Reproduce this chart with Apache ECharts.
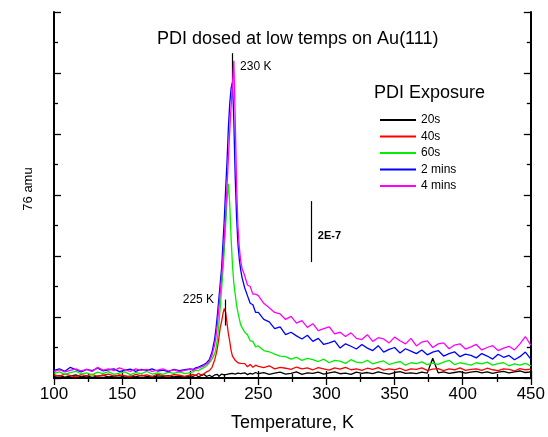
<!DOCTYPE html>
<html>
<head>
<meta charset="utf-8">
<script src="https://cdn.jsdelivr.net/npm/echarts@6/dist/echarts.min.js"></script>
<style>html,body{margin:0;padding:0;background:#fff;}#c{width:548px;height:437px;}</style>
</head>
<body>
<div id="c"></div>
<script>
// Temperatures (K)
const temps = [
  100,104,108,112,116,120,124,128,132,136,140,144,148,152,156,160,164,168,172,176,180,184,188,192,196,200,
  202,204,206,208,210,212,214,216,218,219,220,221,222,223,224,225,226,227,228,229,230,231,232,233,234,235,236,237,238,240,242,244,246,248,
  250,254,258,262,266,270,274,278,282,286,290,294,298,302,306,310,314,318,322,326,330,334,338,342,346,350,354,358,362,366,370,374,378,382,386,390,394,398,402,406,410,414,418,422,426,430,434,438,442,446,450
];
// Signal in units of 1E-7
const exp20s = [
  0.05,0.08,0.03,0.06,0.1,0.04,0.07,0.02,0.06,0.09,0.04,0.05,0.08,0.03,0.06,0.04,0.09,0.05,0.03,0.07,0.05,0.08,0.04,0.06,0.03,0.07,
  0.05,0.1,0.04,0.08,0.12,0.05,0.09,0.04,0.1,0.06,0.12,0.05,0.09,0.13,0.07,0.1,0.06,0.12,0.08,0.14,0.1,0.15,0.09,0.13,0.11,0.16,0.1,0.14,0.12,0.17,0.11,0.15,0.13,0.18,
  0.14,0.18,0.12,0.16,0.19,0.13,0.15,0.2,0.12,0.17,
  0.15,0.19,0.13,0.17,0.2,0.14,0.16,0.12,0.19,0.15,
  0.18,0.14,0.2,0.16,0.13,0.18,0.21,0.15,0.17,0.14,
  0.19,0.16,0.65,0.17,0.2,0.15,0.18,0.21,0.16,0.19,
  0.22,0.17,0.2,0.15,0.19,0.22,0.17,0.2,0.23,0.18,
  0.2
];
const exp40s = [
  0.1,0.06,0.13,0.08,0.04,0.11,0.07,0.12,0.05,0.09,0.13,0.06,0.1,0.08,0.04,0.12,0.07,0.1,0.05,0.13,0.08,0.06,0.11,0.09,0.05,0.1,
  0.12,0.08,0.15,0.1,0.14,0.2,0.24,0.35,0.6,0.78,1.0,1.3,1.65,1.85,2.1,2.28,2.15,1.8,1.45,1.2,0.9,0.72,0.65,0.58,0.52,0.5,0.46,0.48,0.42,0.47,0.37,0.44,0.35,0.42,
  0.38,0.34,0.4,0.3,0.35,0.32,0.28,0.36,0.3,0.33,
  0.27,0.34,0.3,0.26,0.33,0.29,0.35,0.27,0.3,0.25,
  0.32,0.28,0.34,0.26,0.3,0.27,0.32,0.24,0.3,0.28,
  0.33,0.25,0.29,0.31,0.24,0.3,0.27,0.33,0.25,0.28,
  0.3,0.25,0.32,0.27,0.24,0.3,0.28,0.23,0.31,0.27,
  0.29
];
const exp60s = [
  0.15,0.2,0.12,0.18,0.22,0.13,0.17,0.1,0.19,0.14,0.21,0.12,0.16,0.2,0.11,0.18,0.14,0.22,0.13,0.17,0.12,0.19,0.15,0.2,0.14,0.18,
  0.2,0.26,0.24,0.3,0.34,0.4,0.5,0.62,0.8,1.0,1.3,1.75,2.3,2.9,3.5,4.2,5.0,5.8,6.37,5.7,4.6,3.7,3.1,2.75,2.4,2.15,1.95,1.75,1.66,1.5,1.42,1.22,1.2,1.02,
  1.05,0.9,0.86,0.78,0.72,0.7,0.62,0.68,0.58,0.64,
  0.6,0.54,0.62,0.5,0.58,0.55,0.48,0.6,0.52,0.5,
  0.58,0.46,0.52,0.56,0.44,0.5,0.54,0.42,0.5,0.47,
  0.53,0.44,0.49,0.45,0.52,0.58,0.44,0.5,0.46,0.42,
  0.5,0.46,0.52,0.42,0.47,0.5,0.4,0.46,0.42,0.48,
  0.4
];
const exp2min = [
  0.25,0.3,0.22,0.35,0.27,0.2,0.28,0.24,0.32,0.23,0.27,0.3,0.21,0.26,0.29,0.22,0.28,0.25,0.3,0.23,0.26,0.21,0.28,0.24,0.27,0.3,
  0.28,0.33,0.36,0.4,0.44,0.5,0.6,0.85,1.3,1.66,2.1,2.6,3.1,3.6,4.4,5.2,6.2,7.1,8.2,9.0,9.5,9.7,8.4,6.6,5.3,4.4,3.9,3.55,3.3,2.95,2.7,2.45,2.4,2.15,
  2.15,1.92,1.84,1.62,1.68,1.42,1.5,1.38,1.28,1.4,
  1.2,1.3,1.1,1.15,1.22,0.98,1.12,1.04,0.95,1.1,
  0.98,0.9,1.06,0.85,0.94,1.0,0.82,0.96,0.88,0.8,
  0.92,0.76,0.85,0.9,0.72,0.8,0.86,0.7,0.78,0.74,
  0.66,0.8,0.72,0.62,0.78,0.68,0.74,0.6,0.7,0.85,
  0.62
];
const exp4min = [
  0.22,0.27,0.2,0.25,0.3,0.23,0.28,0.21,0.35,0.26,0.3,0.24,0.33,0.27,0.22,0.3,0.25,0.28,0.22,0.26,0.3,0.23,0.27,0.21,0.25,0.28,
  0.25,0.3,0.32,0.36,0.4,0.46,0.55,0.75,1.1,1.4,1.8,2.3,2.8,3.3,3.9,4.6,5.4,6.3,7.2,8.1,8.9,9.6,10.4,8.5,6.4,5.0,4.3,3.85,3.6,3.35,3.05,3.0,2.75,2.75,
  2.7,2.45,2.3,2.15,2.1,1.92,2.02,1.8,1.88,1.66,
  1.78,1.55,1.62,1.68,1.45,1.5,1.36,1.48,1.3,1.26,
  1.42,1.2,1.32,1.28,1.15,1.34,1.22,1.12,1.3,1.05,
  1.18,1.22,1.0,1.12,1.15,0.96,1.08,1.12,0.95,1.02,
  1.1,0.92,1.0,1.06,0.9,0.98,1.04,0.92,1.12,1.36,
  1.08
];
const seriesNames = ['20s','40s','60s','2 mins','4 mins'];
const seriesColors = ['#000000','#ff0000','#00ee00','#0000ff','#ff00ff'];
const seriesValues = [exp20s, exp40s, exp60s, exp2min, exp4min];
const xTicks = [100,150,200,250,300,350,400,450];

const FONT = '"Liberation Sans", Arial, sans-serif';
const chart = echarts.init(document.getElementById('c'), null, {renderer:'canvas'});

const axisLine = {show:true, lineStyle:{color:'#000', width:2}};
const tick = {show:true, inside:true, length:7, lineStyle:{color:'#000', width:1.3}};
const minor = {show:true, splitNumber:2, length:4, lineStyle:{color:'#000', width:1.3}};

const series = seriesNames.map((name, k) => {
  const s = {
    name: name,
    type: 'line',
    data: temps.map((t, i) => [t, seriesValues[k][i]]),
    showSymbol: false,
    symbol: 'none',
    color: seriesColors[k],
    lineStyle: {color: seriesColors[k], width: 1.3},
    z: 2 + k
  };
  if (k === 0) {
    s.markLine = {
      silent: true,
      symbol: ['none','none'],
      label: {show:false},
      lineStyle: {color:'#000', width:1.2, type:'solid'},
      data: [
        [{coord:[230.8, 10.65]}, {coord:[230.8, 9.6]}],
        [{coord:[226, 2.57]}, {coord:[226, 1.72]}],
        [{coord:[289, 5.8]}, {coord:[289, 3.8]}]
      ]
    };
    s.markPoint = {
      silent: true,
      symbol: 'rect',
      symbolSize: 1,
      itemStyle: {color:'rgba(0,0,0,0)'},
      data: [
        {coord:[236.2, 10.2], label:{show:true, position:'right', distance:0, formatter:'230 K', color:'#000', fontSize:12, fontFamily:FONT}},
        {coord:[217.9, 2.57], label:{show:true, position:'left', distance:0, formatter:'225 K', color:'#000', fontSize:12, fontFamily:FONT}},
        {coord:[293.3, 4.65], label:{show:true, position:'right', distance:0, formatter:'2E-7', color:'#000', fontSize:11, fontWeight:'bold', fontFamily:FONT}}
      ]
    };
  }
  return s;
});

chart.setOption({
  animation: false,
  backgroundColor: '#fff',
  textStyle: {fontFamily: FONT, color:'#000'},
  title: [
    {text:'PDI dosed at low temps on Au(111)', left:157, top:30, padding:0,
     textStyle:{fontSize:18, fontWeight:'normal', color:'#000', fontFamily:FONT}},
    {text:'PDI Exposure', left:374, top:84, padding:0,
     textStyle:{fontSize:18, fontWeight:'normal', color:'#000', fontFamily:FONT}}
  ],
  legend: {
    data: seriesNames,
    orient: 'vertical',
    left: 380,
    top: 113,
    padding: 0,
    itemGap: 2.5,
    itemWidth: 36,
    itemHeight: 2,
    icon: 'rect',
    selectedMode: false,
    textStyle: {fontSize:12, lineHeight:14, color:'#000', fontFamily:FONT}
  },
  grid: {left:54, right:16, top:12, bottom:56, containLabel:false},
  xAxis: [
    {type:'value', min:100, max:450, interval:50, position:'bottom',
     name:'Temperature, K', nameLocation:'middle', nameGap:36,
     nameTextStyle:{fontSize:18, color:'#000', fontFamily:FONT},
     axisLine: axisLine, axisTick: tick, minorTick: minor,
     axisLabel:{show:true, fontSize:17, margin:8, color:'#000', fontFamily:FONT,
       formatter: v => (xTicks.indexOf(v) >= 0 ? String(v) : '')},
     splitLine:{show:false}, minorSplitLine:{show:false}},
    {type:'value', min:100, max:450, interval:50, position:'top',
     axisLine: axisLine, axisTick: tick, minorTick: minor,
     axisLabel:{show:false}, splitLine:{show:false}}
  ],
  yAxis: [
    {type:'value', min:0, max:12, interval:2, position:'left',
     name:'76 amu', nameLocation:'middle', nameGap:19, nameRotate:90,
     nameTextStyle:{fontSize:13, color:'#000', fontFamily:FONT, padding:[0,0,0,12]},
     axisLine: axisLine, axisTick: tick, minorTick: minor,
     axisLabel:{show:false}, splitLine:{show:false}},
    {type:'value', min:0, max:12, interval:2, position:'right',
     axisLine: axisLine, axisTick: tick, minorTick: minor,
     axisLabel:{show:false}, splitLine:{show:false}}
  ],
  series: series
});
</script>
</body>
</html>
